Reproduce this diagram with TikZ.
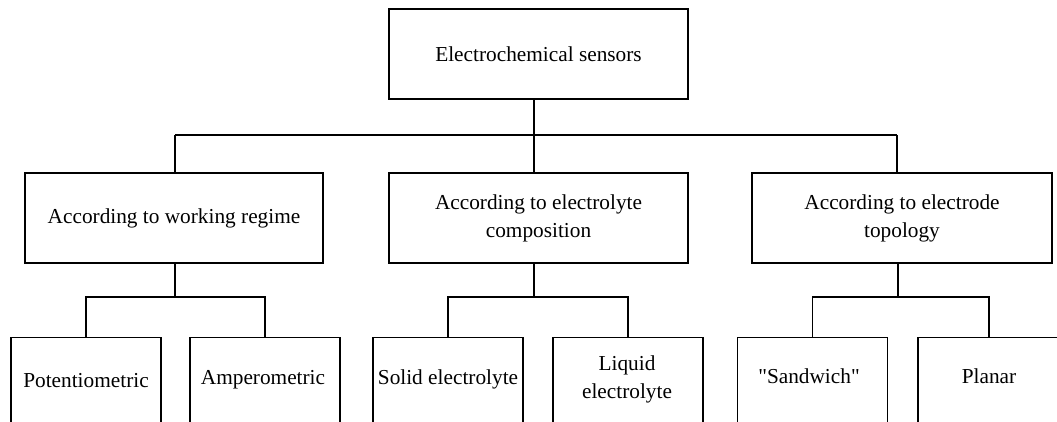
\documentclass[tikz,border=0pt]{standalone}
\usepackage{fontspec}
\setmainfont{Liberation Serif}
\newfontfamily\plainquotes[Ligatures=TeXOff]{Liberation Serif}
\usetikzlibrary{calc}
\begin{document}
\begin{tikzpicture}[x=1pt,y=-1pt,
  box/.style={draw, line width=1.3pt, inner sep=0pt, align=center,
    font=\fontsize{21.3}{28}\selectfont},
  leaf/.style={draw, line width=1.3pt, minimum width=150pt, minimum height=130pt,
    anchor=north, inner sep=0pt},
  txt/.style={font=\fontsize{21.3}{28}\selectfont, align=center, inner sep=0pt},
  conn/.style={line width=1.3pt}]
\useasboundingbox (0,0) rectangle (1057,421);
\clip (0,0) rectangle (1057,421);

% root
\node[box, minimum width=299pt, minimum height=90pt] (root) at (538.5,54) {Electrochemical sensors};

% middle level
\node[box, minimum width=298pt, minimum height=90pt] (L) at (174,218) {According to working regime};
\node[box, minimum width=299pt, minimum height=90pt] (M) at (538.5,218) {According to electrolyte\\composition};
\node[box, minimum width=300pt, minimum height=90pt] (R) at (902,218) {According to electrode\\topology};

% leaves
\node[leaf] (P) at (86,337) {};
\node[leaf] (A) at (265,337) {};
\node[leaf] (S) at (448,337) {};
\node[leaf] (Lq) at (628,337) {};
\node[leaf] (Sw) at (812.5,337) {};
\node[leaf] (Pl) at (993,337) {};

\node[txt, anchor=base] (tP) at (86,387) {Potentiometric};
\node[txt, anchor=base] (tA) at (263,384) {Amperometric};
\node[txt, anchor=base] (tS) at (448,384) {Solid electrolyte};
\node[txt] (tLq) at (627,379) {Liquid\\electrolyte};
\node[txt, anchor=base] (tSw) at (809,383) {{\plainquotes "}Sandwich{\plainquotes "}};
\node[txt, anchor=base] (tPl) at (989,383) {Planar};

% joints
\coordinate (j0) at (534,135);
\coordinate (jL) at (175,135);
\coordinate (jR) at (897,135);
\coordinate (bL) at (175,297);
\coordinate (bM) at (534,297);
\coordinate (bR) at (898,297);

% connectors
\draw[conn] (root.south -| j0) -- (j0);
\draw[conn] (jL) -- (jR);
\draw[conn] (jL) -- (jL |- L.north);
\draw[conn] (j0) -- (j0 |- M.north);
\draw[conn] (jR) -- (jR |- R.north);

\draw[conn] (L.south -| bL) -- (bL);
\draw[conn] (M.south -| bM) -- (bM);
\draw[conn] (R.south -| bR) -- (bR);

\draw[conn] (P.north) |- (bL) -| (A.north);
\draw[conn] (S.north) |- (bM) -| (Lq.north);
\draw[conn] (Sw.north) |- (bR) -| ($(Pl.north)+(-4,0)$);
\end{tikzpicture}
\end{document}
